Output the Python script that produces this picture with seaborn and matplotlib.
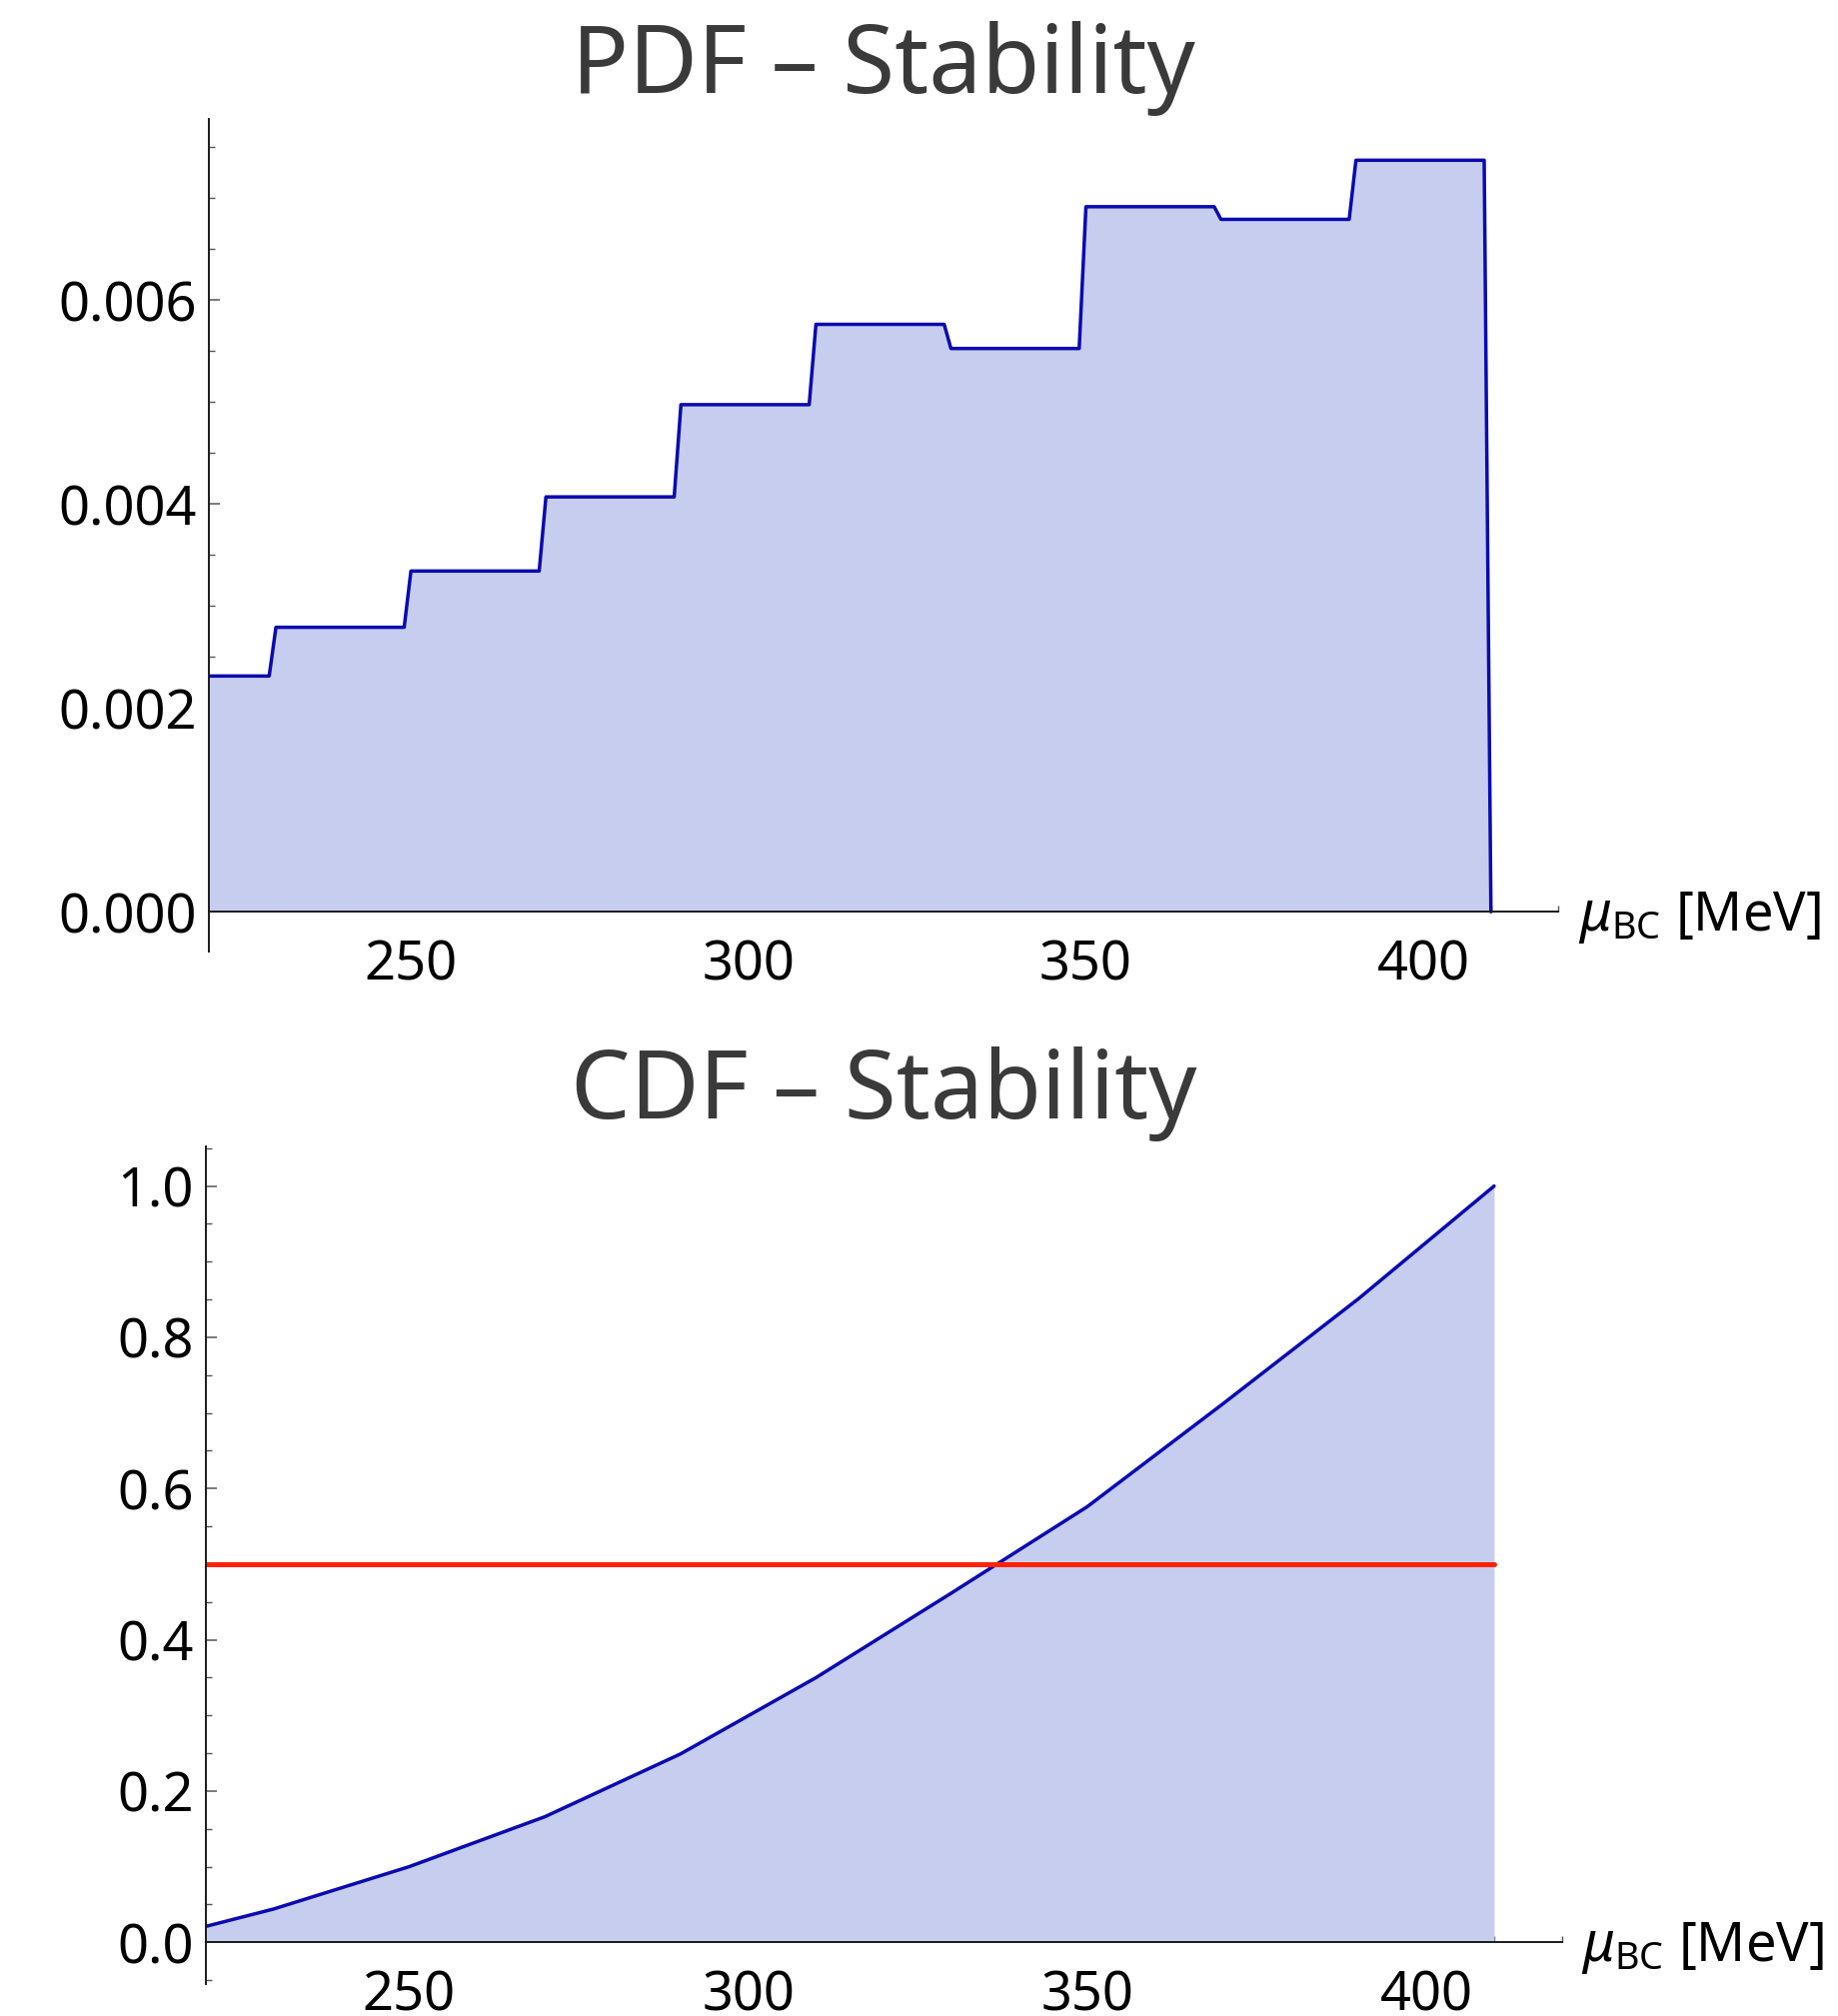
import numpy as np
import pandas as pd
import matplotlib
matplotlib.use("Agg")
import matplotlib.pyplot as plt
import matplotlib.transforms as mtransforms
from matplotlib.ticker import MultipleLocator, FixedLocator, FormatStrFormatter
import seaborn as sns

# ---------------- data ----------------
bin_edges = [220, 230, 250, 270, 290, 310, 330, 350, 370, 390, 410]
pdf_values = [0.002313, 0.002791, 0.003343, 0.004070, 0.004975,
              0.005763, 0.005526, 0.006917, 0.006793, 0.007373]

cdf_mu = [220, 230, 250, 270, 290, 310, 330, 350, 370, 390, 410]
cdf_values = [0.021, 0.044, 0.100, 0.166, 0.249, 0.350, 0.462, 0.576, 0.712, 0.851, 1.000]

median_level = 0.5

x_major_ticks = [250, 300, 350, 400]
pdf_major_ticks = [0.000, 0.002, 0.004, 0.006]
cdf_major_ticks = [0.0, 0.2, 0.4, 0.6, 0.8, 1.0]

pdf_title = "PDF – Stability"
cdf_title = "CDF – Stability"
x_label = r"$\mu_{\mathrm{BC}}$ [MeV]"

# ---------------- style ----------------
sns.set_style("ticks")
plt.rcParams["font.family"] = ["Noto Sans", "DejaVu Sans"]
plt.rcParams["mathtext.fontset"] = "custom"
plt.rcParams["mathtext.rm"] = "Noto Sans"
plt.rcParams["mathtext.it"] = "Noto Sans:italic"
plt.rcParams["mathtext.bf"] = "Noto Sans:bold"

LINE = "#0A0AB0"
FILL = "#C7CDEE"
RED = "#FF2200"
TITLE_C = "#3a3a3a"
TICK_FS = 39

# PDF sampled on a 1 MeV grid (step function, linearly joined as in the source plot)
mu_grid = np.arange(bin_edges[0], bin_edges[-1] + 1)
idx = np.searchsorted(bin_edges, mu_grid, side="right") - 1
pdf_arr = np.array(pdf_values)
pdf_grid = np.where(idx < len(pdf_values), pdf_arr[np.clip(idx, 0, len(pdf_values) - 1)], 0.0)
pdf_df = pd.DataFrame({"mu": mu_grid, "pdf": pdf_grid})
cdf_df = pd.DataFrame({"mu": cdf_mu, "cdf": cdf_values})

fig = plt.figure(figsize=(18.39, 20.17), dpi=100)
ax1 = fig.add_axes([0.1134, 0.5278, 0.7345, 0.4133])
ax2 = fig.add_axes([0.1119, 0.01577, 0.7379, 0.4156])


def style_axes(ax):
    for s in ("top", "right"):
        ax.spines[s].set_visible(False)
    ax.spines["bottom"].set_position(("data", 0))
    for s in ("left", "bottom"):
        ax.spines[s].set_linewidth(1.4)
        ax.spines[s].set_color("#1a1a1a")
    ax.set_xlim(220, 420)
    ax.xaxis.set_major_locator(FixedLocator(x_major_ticks))
    ax.xaxis.set_minor_locator(MultipleLocator(10))
    ax.tick_params(axis="both", which="major", direction="in", length=8, width=1.1,
                   color="#555555", labelsize=TICK_FS, labelcolor="black")
    ax.tick_params(axis="both", which="minor", direction="in", length=4, width=1.0,
                   color="#555555")
    ax.tick_params(axis="x", which="major", pad=19)
    ax.tick_params(axis="y", which="major", pad=8.5)
    ax.set_xlabel("")
    ax.set_ylabel("")
    trans = mtransforms.blended_transform_factory(ax.transAxes, ax.transData)
    ax.annotate(x_label, xy=(1.0, 0), xycoords=trans, xytext=(14, -4),
                textcoords="offset points", ha="left", va="center",
                fontsize=TICK_FS, color="black", annotation_clip=False)


# ---- PDF ----
ax1.fill_between(pdf_df["mu"], 0, pdf_df["pdf"], color=FILL, lw=0)
sns.lineplot(data=pdf_df, x="mu", y="pdf", ax=ax1, color=LINE, lw=2.5)
ax1.set_ylim(-0.000394, 0.00778)
ax1.yaxis.set_major_locator(FixedLocator(pdf_major_ticks))
ax1.yaxis.set_minor_locator(MultipleLocator(0.0005))
ax1.yaxis.set_major_formatter(FormatStrFormatter("%.3f"))
style_axes(ax1)

# ---- CDF ----
ax2.fill_between(cdf_df["mu"], 0, cdf_df["cdf"], color=FILL, lw=0)
sns.lineplot(data=cdf_df, x="mu", y="cdf", ax=ax2, color=LINE, lw=2.5)
sns.lineplot(x=[cdf_mu[0], cdf_mu[-1]], y=[median_level, median_level], ax=ax2,
             color=RED, lw=3.6)
ax2.set_ylim(-0.0554, 1.0525)
ax2.yaxis.set_major_locator(FixedLocator(cdf_major_ticks))
ax2.yaxis.set_minor_locator(MultipleLocator(0.05))
ax2.yaxis.set_major_formatter(FormatStrFormatter("%.1f"))
style_axes(ax2)

fig.text(0.4807, 0.9541, pdf_title, ha="center", va="baseline", fontsize=68, color=TITLE_C)
fig.text(0.4807, 0.4452, cdf_title, ha="center", va="baseline", fontsize=68, color=TITLE_C)

fig.savefig("out.png", dpi=100)
